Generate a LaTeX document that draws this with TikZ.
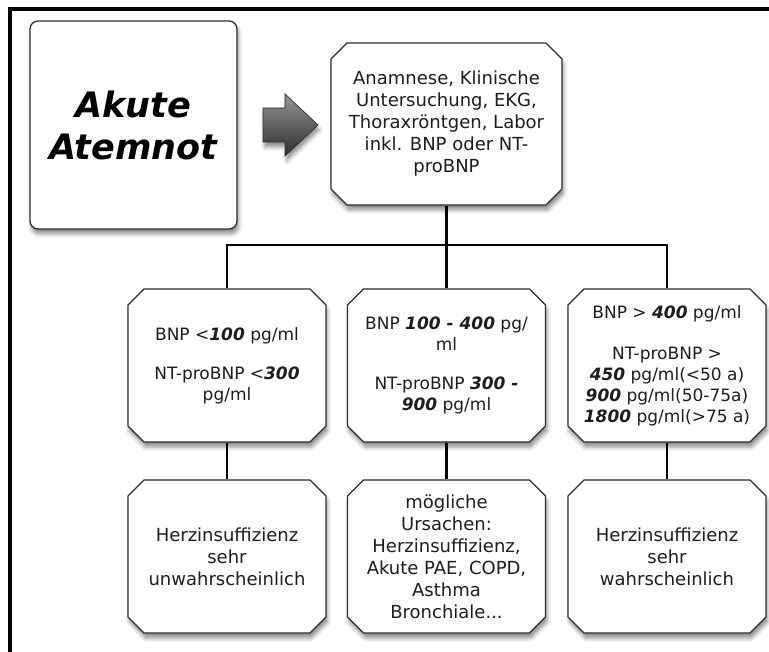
\documentclass[tikz,border=0pt]{standalone}
\usepackage{fontspec}
\setmainfont{DejaVu Sans}
\usetikzlibrary{shapes.misc,shadows.blur}
\definecolor{txt}{HTML}{1E1E1E}
\definecolor{edge}{HTML}{2E2E2E}
\newcommand{\bi}[1]{\textbf{\textit{#1}}}
\begin{document}
\begin{tikzpicture}[x=1pt,y=-1pt,
  shadowed/.style={blur shadow={shadow xshift=1.5pt, shadow yshift=-5pt, shadow blur radius=4pt, shadow opacity=45}},
  box/.style={chamfered rectangle, chamfered rectangle xsep=8pt, chamfered rectangle ysep=8pt,
    draw=edge, line width=1.3pt, fill=white, minimum width=198pt, minimum height=153pt,
    inner sep=0pt, align=center, text=txt, font=\fontsize{18}{22}\selectfont, shadowed},
  midbox/.style={box, font=\fontsize{17}{21}\selectfont},
  conn/.style={line width=2.5pt, black}]
\useasboundingbox (0,0) rectangle (769,652);
% frame
\draw[line width=4pt] (769,9) -- (10,9) -- (10,652);
% start box
\node[rounded corners=8pt, draw=edge, line width=1.3pt, fill=white, minimum width=207pt,
  minimum height=208pt, align=center, text=black, shadowed,
  font=\fontsize{35}{42}\selectfont\bfseries\itshape] (akute) at (133.5,125) {Akute\\Atemnot};
% block arrow
\path[draw=edge, line width=0.7pt, top color=black!42, bottom color=black!82, shadowed]
  (263,108) -- (285,108) -- (285,94) -- (318,125) -- (285,156) -- (285,142) -- (263,142) -- cycle;
% top box
\node[box, minimum width=231pt, minimum height=162pt] (top) at (446.5,124)
  {Anamnese, Klinische\\Untersuchung, EKG,\\Thoraxröntgen, Labor\\inkl. BNP oder NT-\\proBNP};
% middle row
\node[midbox] (m1) at (227,365.5) {BNP <\bi{100} pg/ml\\[18pt]NT-proBNP <\bi{300}\\pg/ml};
\node[midbox] (m2) at (446.5,365.5) {BNP \bi{100 - 400} pg/\\ml\\[18pt]NT-proBNP \bi{300 -}\\\bi{900} pg/ml};
\node[midbox] (m3) at (667,365.5) {BNP > \bi{400} pg/ml\\[20pt]NT-proBNP >\\\bi{450} pg/ml(<50 a)\\\bi{900} pg/ml(50-75a)\\\bi{1800} pg/ml(>75 a)};
% bottom row
\node[box] (b1) at (227,556.5) {Herzinsuffizienz\\sehr\\unwahrscheinlich};
\node[box] (b2) at (446.5,556.5) {mögliche\\Ursachen:\\Herzinsuffizienz,\\Akute PAE, COPD,\\Asthma\\Bronchiale...};
\node[box] (b3) at (667,556.5) {Herzinsuffizienz\\sehr\\wahrscheinlich};
% connectors
\coordinate (bus) at (446.5,245);
\draw[conn] (top.south) -- (bus);
\draw[conn] (m1.north) -- (m1.north |- bus) -- (m3.north |- bus) -- (m3.north);
\draw[conn] (bus) -- (m2.north);
\draw[conn] (m1.south) -- (b1.north);
\draw[conn] (m2.south) -- (b2.north);
\draw[conn] (m3.south) -- (b3.north);
\end{tikzpicture}
\end{document}
